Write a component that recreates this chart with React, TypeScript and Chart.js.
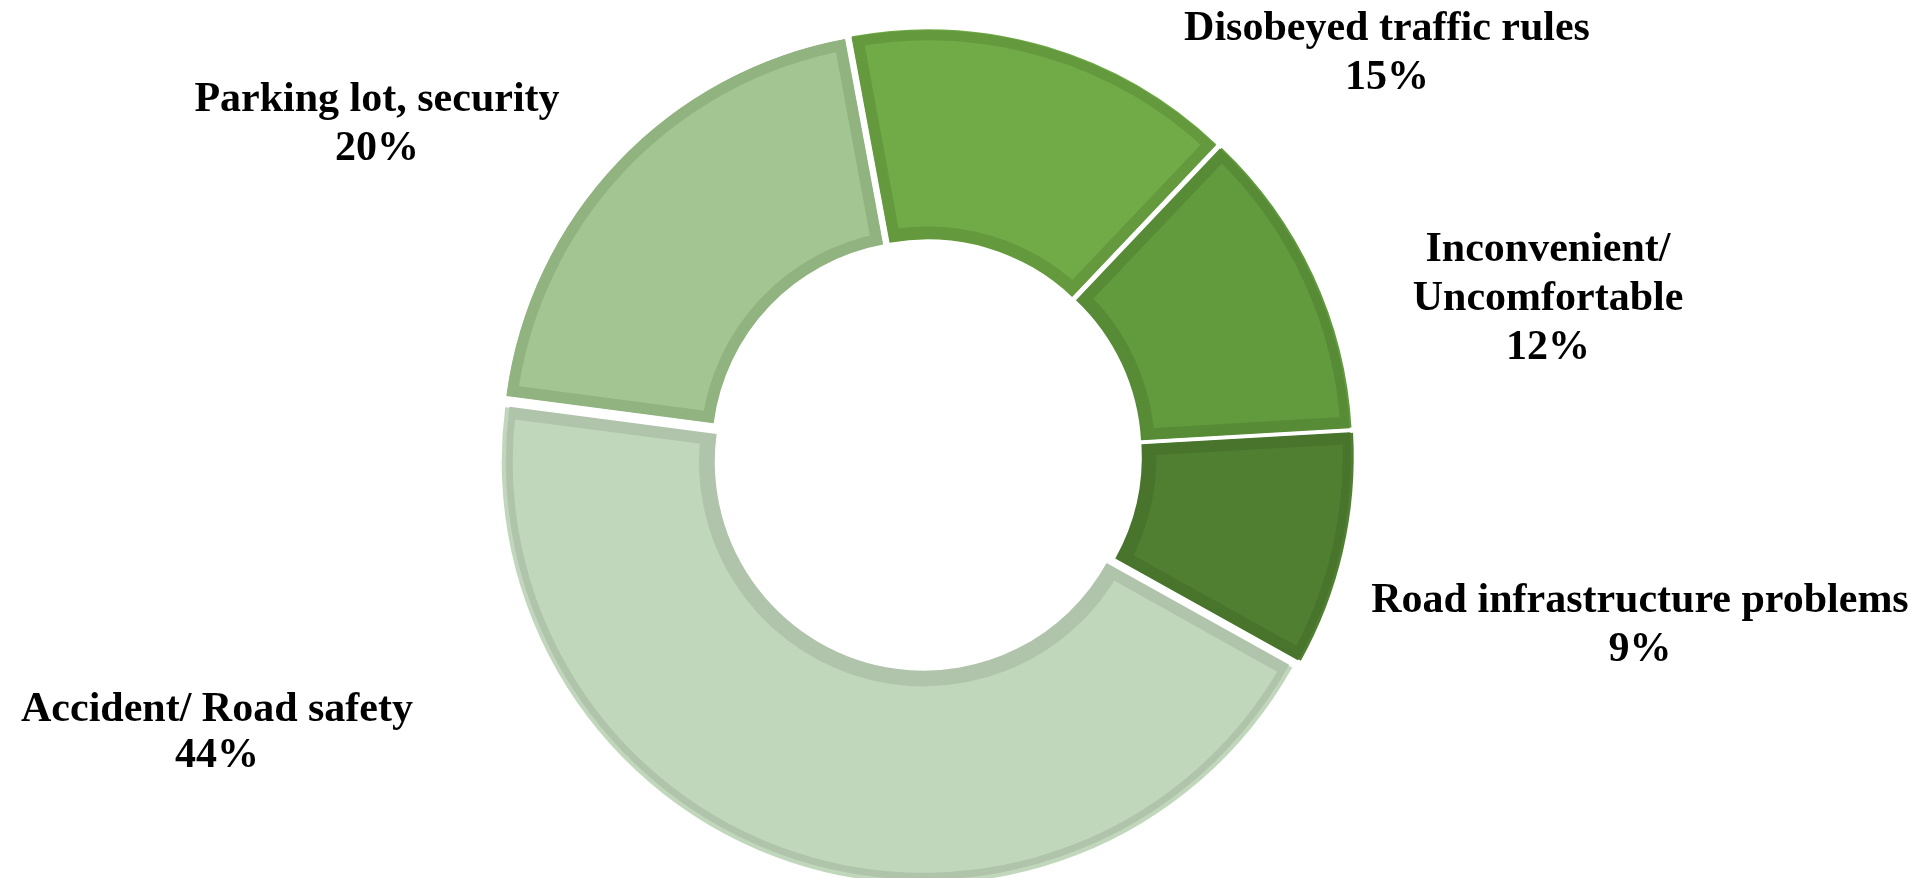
import React, { useEffect, useRef } from "react";
import { Chart, registerables } from "chart.js";

Chart.register(...registerables);

const categories = [
  "Disobeyed traffic rules",
  "Inconvenient/\nUncomfortable",
  "Road infrastructure problems",
  "Accident/ Road safety",
  "Parking lot, security",
];
const shares = [15, 12, 9, 44, 20];
const fillColors = ["#70AB47", "#629A3E", "#507F31", "#C1D7BC", "#A2C592"];
const borderColors = ["#64993E", "#578B36", "#48742C", "#AFC4AA", "#90B37F"];
// label anchors relative to the doughnut centre: [dx, dy of first baseline, line height]
const labelAnchors = [
  [461, -415, 49],
  [622, -194, 49],
  [714, 157, 49],
  [-709, 266, 46],
  [-549, -344, 49],
];

const labelPlugin = {
  id: "outerLabels",
  afterDatasetsDraw(chart: any) {
    const meta = chart.getDatasetMeta(0);
    const arc0 = meta.data[0];
    if (!arc0) return;
    const cx = arc0.x;
    const cy = arc0.y;
    const total = shares.reduce((a, b) => a + b, 0);
    const ctx = chart.ctx;
    ctx.save();
    ctx.font = "bold 42px 'Liberation Serif', 'Times New Roman', serif";
    ctx.fillStyle = "#000000";
    ctx.textAlign = "center";
    ctx.textBaseline = "alphabetic";
    categories.forEach((cat, i) => {
      const lines = cat.split("\n");
      lines.push(Math.round((shares[i] / total) * 100) + "%");
      const [dx, dy, lh] = labelAnchors[i];
      lines.forEach((line, j) => {
        ctx.fillText(line, cx + dx, cy + dy + j * lh);
      });
    });
    ctx.restore();
  },
};

export default function App() {
  const canvasRef = useRef<HTMLCanvasElement | null>(null);

  useEffect(() => {
    document.body.style.margin = "0";
    const canvas = canvasRef.current;
    if (!canvas) return;
    const chart = new Chart(canvas, {
      type: "doughnut",
      data: {
        labels: categories.map((c) => c.replace("\n", " ")),
        datasets: [
          {
            data: shares,
            backgroundColor: fillColors,
            borderColor: borderColors,
            borderWidth: 11,
            borderAlign: "inner",
            offset: 28,
            hoverOffset: 0,
          } as any,
        ],
      },
      options: {
        responsive: false,
        animation: false,
        rotation: -10.5,
        cutout: "50%",
        radius: 418,
        layout: { padding: { left: 0, right: 71, top: 32, bottom: 0 } },
        plugins: {
          legend: { display: false },
          tooltip: { enabled: false },
        },
        events: [],
      } as any,
      plugins: [labelPlugin],
    });
    return () => chart.destroy();
  }, []);

  return (
    <div style={{ position: "absolute", left: 0, top: 0, width: 1923, height: 878, background: "#ffffff" }}>
      <canvas ref={canvasRef} width={1923} height={878} style={{ display: "block", width: 1923, height: 878 }} />
    </div>
  );
}
